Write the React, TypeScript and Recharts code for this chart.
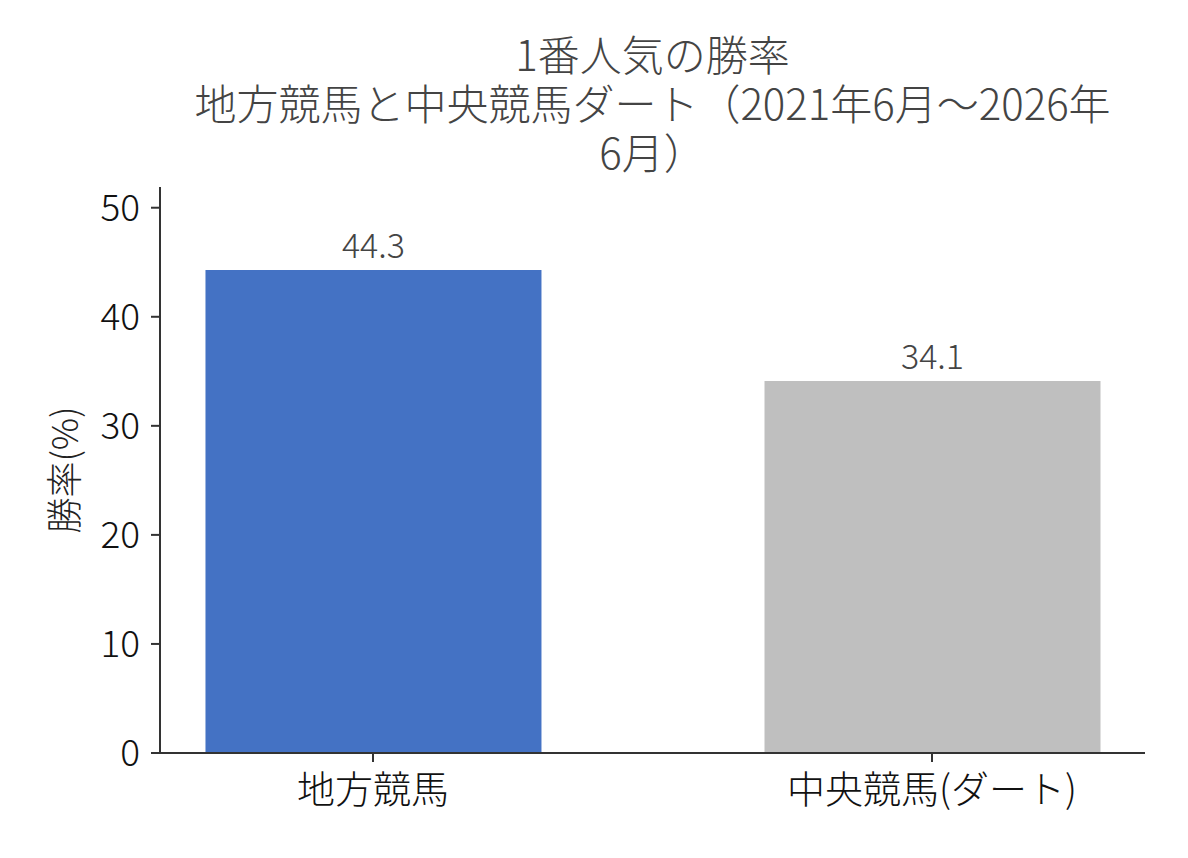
import { BarChart, Bar, XAxis, YAxis, Cell, LabelList } from "recharts"

const categories = ["地方競馬", "中央競馬(ダート)"]
const winRates = [44.3, 34.1]
const barColors = ["#4472C4", "#BFBFBF"]
const yTicks = [0, 10, 20, 30, 40, 50]
const titleLines = ["1番人気の勝率", "地方競馬と中央競馬ダート（2021年6月～2026年", "6月）"]

const data = categories.map((name, i) => ({ x: i, name, rate: winRates[i] }))

const FONT = '"Noto Sans CJK JP", "Noto Sans", sans-serif'
const AXIS = "#333333"

export default function App() {
  return (
    <div style={{ position: "absolute", left: 0, top: 0, width: 1188, height: 858, background: "#fff", fontFamily: FONT, fontWeight: 300 }}>
      <div
        style={{
          position: "absolute",
          left: 100,
          width: 1105,
          top: 28,
          textAlign: "center",
          color: "#444",
          fontSize: 42,
          lineHeight: "49px",
        }}
      >
        {titleLines.map((t) => (
          <div key={t} style={{ whiteSpace: "nowrap" }}>{t}</div>
        ))}
      </div>
      <BarChart
        width={1188}
        height={858}
        data={data}
        margin={{ top: 187, right: 43, bottom: 45, left: 60 }}
        style={{ fontFamily: FONT, fontWeight: 300 }}
      >
        <XAxis
          dataKey="x"
          type="number"
          domain={[-0.381, 1.381]}
          ticks={[0, 1]}
          tickFormatter={(v) => categories[v] ?? ""}
          height={60}
          stroke={AXIS}
          strokeWidth={2}
          tickSize={9}
          tick={{ fontSize: 38, fill: "#111", dy: 12 }}
        />
        <YAxis
          type="number"
          domain={[0, 51.9]}
          ticks={yTicks}
          width={100}
          stroke={AXIS}
          strokeWidth={2}
          tickSize={9}
          tick={{ fontSize: 37, fill: "#111", dx: -9 }}
          label={{
            value: "勝率(%)",
            angle: -90,
            position: "insideLeft",
            dx: 0,
            dy: 0,
            style: { fontSize: 36, fill: "#222", textAnchor: "middle" },
          }}
        />
        <Bar dataKey="rate" barSize={336} isAnimationActive={false}>
          {data.map((d, i) => (
            <Cell key={d.name} fill={barColors[i]} />
          ))}
          <LabelList dataKey="rate" position="top" offset={12} fill="#444" fontSize={34} />
        </Bar>
      </BarChart>
    </div>
  )
}
